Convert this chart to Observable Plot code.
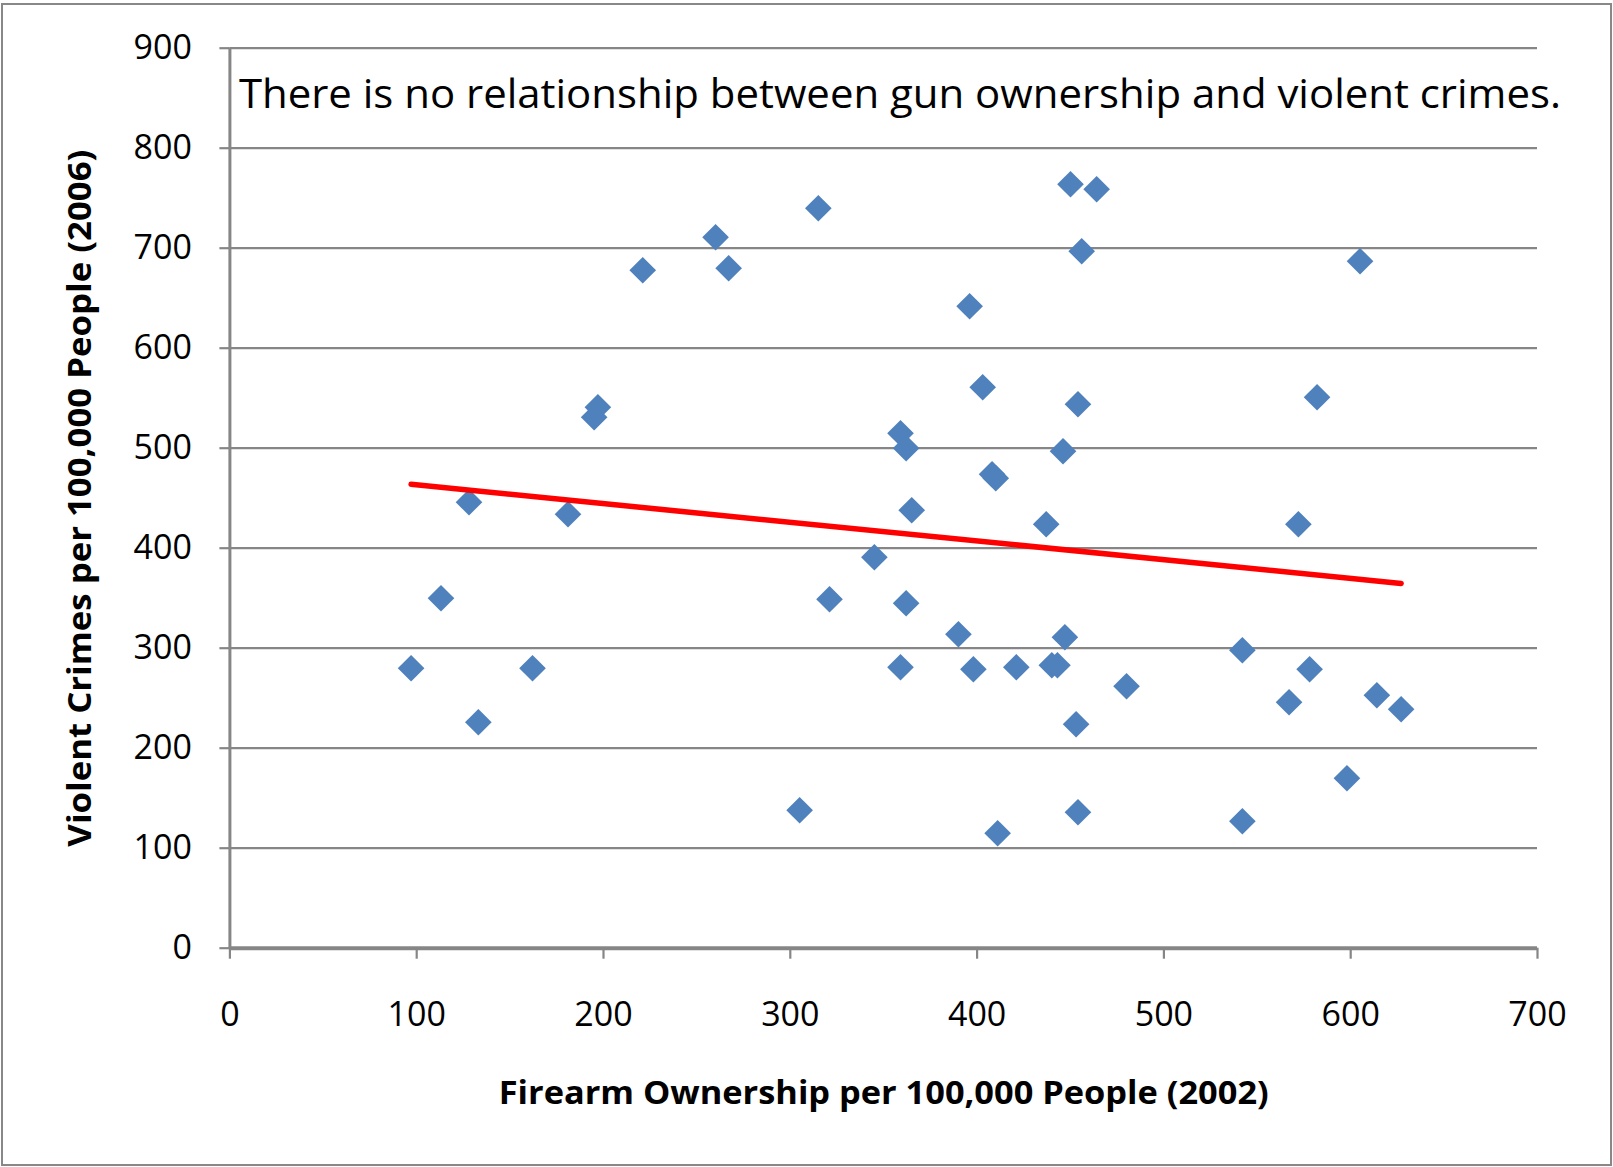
<!DOCTYPE html>
<html>
<head>
<meta charset="utf-8">
<script src="https://cdn.jsdelivr.net/npm/d3@7"></script>
<script src="https://cdn.jsdelivr.net/npm/@observablehq/plot@0.6"></script>
<style>
  html, body { margin: 0; padding: 0; background: #fff; }
  #wrap { position: relative; width: 1613px; height: 1167px; overflow: hidden; }
  #frame { position: absolute; left: 1px; top: 3px; width: 1607px; height: 1159px; border: 2px solid #888888; pointer-events: none; }
  #chart { position: absolute; left: 0; top: 0; }
</style>
</head>
<body>
<div id="wrap"><div id="chart"></div><div id="frame"></div></div>
<script>
// Firearm ownership per 100,000 people (2002)
const ownership = [97, 113, 128, 133, 162, 181, 195, 197, 221, 260,
                   267, 305, 315, 321, 345, 359, 362, 365, 362, 359,
                   390, 396, 398, 403, 408, 410, 411, 421, 437, 440,
                   443, 446, 447, 450, 454, 453, 456, 454, 464, 480,
                   542, 542, 567, 572, 578, 582, 598, 605, 614, 627];
// Violent crimes per 100,000 people (2006)
const crimes = [280, 350, 446, 226, 280, 434, 531, 541, 678, 711,
                680, 138, 740, 349, 391, 515, 500, 438, 345, 281,
                314, 642, 279, 561, 474, 470, 115, 281, 424, 283,
                283, 497, 311, 764, 544, 224, 697, 136, 759, 262,
                298, 127, 246, 424, 279, 551, 170, 687, 253, 239];
const xTicks = [0, 100, 200, 300, 400, 500, 600, 700];
const yTicks = [0, 100, 200, 300, 400, 500, 600, 700, 800, 900];
const chartNote = "There is no relationship between gun ownership and violent crimes.";
const xTitle = "Firearm Ownership per 100,000 People (2002)";
const yTitle = "Violent Crimes per 100,000 People (2006)";

const data = ownership.map((x, i) => ({x, y: crimes[i]}));
const gray = "#868686";

const svg = Plot.plot({
  width: 1613,
  height: 1167,
  marginLeft: 229.4,
  marginRight: 76,
  marginTop: 47.7,
  marginBottom: 219.3,
  x: {domain: [0, 700]},
  y: {domain: [0, 900]},
  style: {fontFamily: "'Open Sans', sans-serif", fontSize: "34px", color: "black", background: "transparent", overflow: "visible"},
  marks: [
    Plot.gridY(yTicks, {stroke: gray, strokeOpacity: 1, strokeWidth: 2.2}),
    Plot.axisY(yTicks, {tickSize: 10, tickPadding: 28, stroke: gray, strokeWidth: 2.2, fontSize: 34, label: null, tickFormat: d => d}),
    Plot.axisX(xTicks, {tickSize: 11, tickPadding: 43, stroke: gray, strokeWidth: 2.2, fontSize: 34, label: null, tickFormat: d => d}),
    Plot.ruleX([0], {stroke: gray, strokeWidth: 3}),
    Plot.ruleY([0], {stroke: gray, strokeWidth: 4}),
    Plot.dot(data, {x: "x", y: "y", symbol: "diamond2", r: 12, fill: "#4F81BD", stroke: null}),
    Plot.linearRegressionY(data, {x: "x", y: "y", stroke: "#FF0000", strokeWidth: 5.5, ci: 0, strokeLinecap: "round"}),
    Plot.text([chartNote], {text: d => d, frameAnchor: "top-left", dx: 9, dy: 47, textAnchor: "start", lineAnchor: "middle", fontSize: 40, fill: "black"}),
    Plot.text([xTitle], {text: d => d, frameAnchor: "bottom", dy: 146, lineAnchor: "middle", fontSize: 32, fontWeight: "bold", fill: "black"}),
    Plot.text([yTitle], {text: d => d, frameAnchor: "left", dx: -149.4, rotate: -90, textAnchor: "middle", lineAnchor: "middle", fontSize: 32, fontWeight: "bold", fill: "black"})
  ]
});

document.getElementById("chart").appendChild(svg);

const fit = {[chartNote]: 1322, [xTitle]: 770, [yTitle]: 697};
d3.select(svg).selectAll("text").each(function() {
  const t = this.textContent;
  if (fit[t]) {
    d3.select(this).attr("textLength", fit[t]).attr("lengthAdjust", "spacingAndGlyphs");
  }
});
</script>
</body>
</html>
